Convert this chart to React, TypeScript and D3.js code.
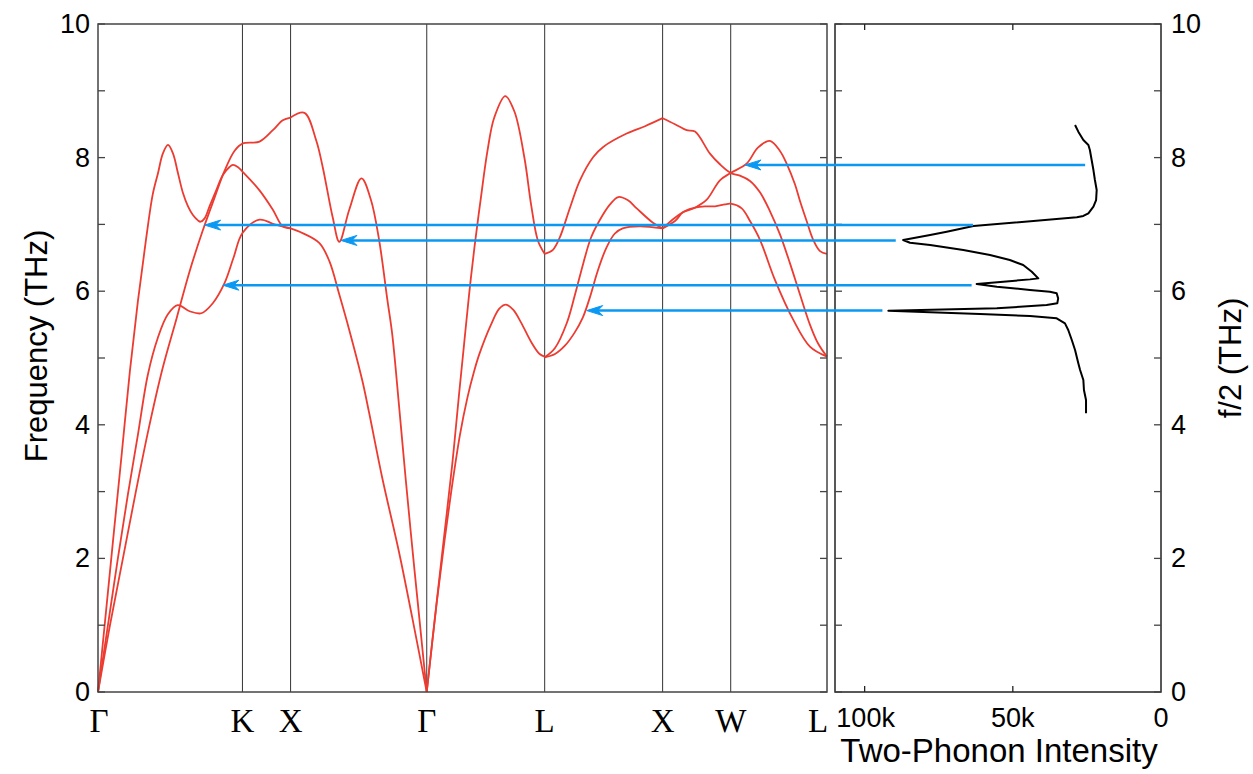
import React from "react";
import * as d3 from "d3";

const W = 1253;
const H = 774;

// high-symmetry path (k in units of 2π/a)
const kLabels = ["Γ", "K", "X", "Γ", "L", "X", "W", "L"];
const kTicks = [0, 1.0607, 1.4142, 2.4142, 3.2802, 4.1463, 4.6463, 5.3534];
const freqTicks = [0, 2, 4, 6, 8, 10];
const freqMinorTicks = [0, 1, 2, 3, 4, 5, 6, 7, 8, 9, 10];
const intensityTicks = [100000, 50000, 0];
const intensityTickLabels = ["100k", "50k", "0"];

// dispersion branches [k, f(THz)]
const branchGKX1 = [[0,0],[0.0585,1.2],[0.117,2.4],[0.176,3.6],[0.234,4.8],[0.293,5.85],[0.351,6.75],[0.402,7.45],[0.441,7.77],[0.476,8.06],[0.514,8.19],[0.551,8.06],[0.587,7.77],[0.624,7.47],[0.661,7.27],[0.697,7.14],[0.734,7.06],[0.753,7.04],[0.783,7.09],[0.819,7.27],[0.868,7.51],[0.917,7.74],[0.966,7.86],[0.990,7.89],[1.026,7.86],[1.061,7.79],[1.186,7.51],[1.284,7.22],[1.357,6.97],[1.414,6.94]];
const branchGKX2 = [[0,0],[0.073,1.0],[0.146,2.0],[0.219,2.95],[0.293,3.85],[0.366,4.75],[0.439,5.3],[0.512,5.65],[0.585,5.79],[0.673,5.70],[0.759,5.67],[0.843,5.82],[0.929,6.12],[0.995,6.50],[1.061,6.87],[1.186,7.07],[1.296,7.00],[1.414,6.94]];
const branchGKX3 = [[0,0],[0.088,1.0],[0.183,2.0],[0.278,3.0],[0.373,3.95],[0.475,4.85],[0.578,5.6],[0.673,6.3],[0.768,6.9],[0.856,7.40],[0.929,7.8],[1.002,8.1],[1.061,8.21],[1.186,8.24],[1.284,8.41],[1.357,8.56],[1.414,8.60]];
const branchXG1 = [[1.414,8.60],[1.516,8.67],[1.602,8.26],[1.650,7.86],[1.723,7.11],[1.772,6.74],[1.845,7.22],[1.935,7.69],[2.004,7.37],[2.064,6.77],[2.125,5.87],[2.161,5.35],[2.210,4.30],[2.259,3.20],[2.307,2.18],[2.356,1.18],[2.414,0]];
const branchXG2 = [[1.414,6.94],[1.502,6.87],[1.626,6.72],[1.699,6.45],[1.772,5.95],[1.845,5.42],[1.940,4.67],[1.991,4.18],[2.088,3.20],[2.210,2.10],[2.307,1.12],[2.414,0]];
const branchGL1 = [[2.414,0],[2.479,1.2],[2.540,2.3],[2.601,3.4],[2.651,4.45],[2.688,5.2],[2.725,5.95],[2.767,6.7],[2.812,7.4],[2.860,8.1],[2.910,8.6],[2.991,8.92],[3.058,8.69],[3.132,7.99],[3.181,7.29],[3.230,6.76],[3.280,6.56]];
const branchGL2 = [[2.414,0],[2.488,1.35],[2.547,2.3],[2.601,3.1],[2.658,3.85],[2.712,4.4],[2.762,4.8],[2.799,5.05],[2.886,5.5],[2.947,5.74],[2.996,5.80],[3.050,5.72],[3.107,5.53],[3.181,5.24],[3.243,5.06],[3.280,5.02]];
const branchLX1 = [[3.280,6.56],[3.341,6.62],[3.392,6.81],[3.466,7.25],[3.539,7.66],[3.637,8.01],[3.710,8.16],[3.882,8.36],[4.017,8.47],[4.146,8.59]];
const branchLX2 = [[3.280,5.01],[3.356,5.15],[3.442,5.52],[3.503,5.95],[3.564,6.42],[3.620,6.80],[3.686,7.07],[3.760,7.30],[3.821,7.41],[3.892,7.36],[3.956,7.24],[4.078,7.02],[4.146,6.94]];
const branchLX3 = [[3.280,5.01],[3.356,5.06],[3.427,5.18],[3.500,5.38],[3.559,5.60],[3.611,5.90],[3.669,6.30],[3.733,6.65],[3.794,6.86],[3.853,6.94],[3.977,6.97],[4.146,6.94]];
const branchXWL1 = [[4.146,8.59],[4.237,8.50],[4.323,8.41],[4.384,8.39],[4.494,8.06],[4.567,7.90],[4.646,7.77],[4.714,7.73],[4.788,7.65],[4.861,7.48],[4.934,7.20],[5.008,6.85],[5.081,6.42],[5.155,5.95],[5.228,5.50],[5.287,5.22],[5.353,5.02]];
const branchXWL2 = [[4.146,6.94],[4.237,7.05],[4.296,7.18],[4.384,7.25],[4.470,7.37],[4.567,7.66],[4.646,7.77],[4.763,7.91],[4.846,8.15],[4.934,8.25],[5.008,8.10],[5.057,7.91],[5.118,7.60],[5.155,7.35],[5.204,7.05],[5.252,6.77],[5.302,6.60],[5.353,6.56]];
const branchXWL3 = [[4.146,6.94],[4.237,7.10],[4.310,7.20],[4.384,7.25],[4.457,7.27],[4.531,7.27],[4.604,7.30],[4.646,7.31],[4.727,7.24],[4.788,7.05],[4.861,6.77],[4.971,6.17],[5.106,5.57],[5.228,5.17],[5.353,5.02]];

const branches = [branchGKX1, branchGKX2, branchGKX3, branchXG1, branchXG2, branchGL1, branchGL2, branchLX1, branchLX2, branchLX3, branchXWL1, branchXWL2, branchXWL3];

// two-phonon spectrum [f/2 (THz), intensity]
const spectrum = [[8.488,29000],[8.388,27900],[8.263,26200],[8.189,24500],[8.114,24000],[7.964,23400],[7.814,22800],[7.665,22300],[7.515,21700],[7.365,21900],[7.265,22800],[7.166,24500],[7.126,26200],[7.106,28400],[6.976,63300],[6.891,72300],[6.841,77900],[6.766,87000],[6.726,84700],[6.692,77900],[6.617,66700],[6.542,57700],[6.467,51000],[6.392,46500],[6.292,43600],[6.192,41400],[6.177,44200],[6.142,53200],[6.108,62200],[6.068,55400],[6.018,44200],[5.993,37500],[5.968,35200],[5.893,34700],[5.818,35000],[5.793,38600],[5.744,55400],[5.708,92000],[5.684,77900],[5.659,61100],[5.629,44200],[5.594,35200],[5.519,32400],[5.419,31300],[5.269,30100],[5.120,29000],[4.920,27900],[4.820,27300],[4.671,26200],[4.521,26000],[4.371,25300],[4.172,25300]];

// arrows: frequency, start intensity, end k
const arrowFreq = [7.89, 6.99, 6.76, 6.09, 5.71];
const arrowFromIntensity = [25600, 63400, 89500, 63900, 94000];
const arrowToK = [4.751, 0.783, 1.784, 0.917, 3.589];

const RED = "#ec3b31";
const BLUE = "#0b98f3";
const AXIS = "#444";
const SANS = "'Liberation Sans', Arial, sans-serif";
const SERIF = "'Liberation Serif', 'Times New Roman', serif";

export default function App() {
  const L = { x0: 98, x1: 827, y0: 24, y1: 692 };
  const R = { x0: 835, x1: 1161 };
  const xK = d3.scaleLinear().domain([0, 5.3534]).range([L.x0, L.x1]);
  const yF = d3.scaleLinear().domain([0, 10]).range([L.y1, L.y0]);
  const xI = d3.scaleLinear().domain([110000, 0]).range([R.x0, R.x1]);

  const lineK = d3
    .line<number[]>()
    .x((d) => xK(d[0]))
    .y((d) => yF(d[1]))
    .curve(d3.curveCatmullRom.alpha(0.5));
  const lineS = d3
    .line<number[]>()
    .x((d) => xI(d[1]))
    .y((d) => yF(d[0]))
    .curve(d3.curveLinear);

  const tickLen = 7;
  const kLabelShift = (i: number) => (i === kLabels.length - 1 ? -9 : i === 0 ? 1 : 0);

  return (
    <svg
      width={W}
      height={H}
      style={{ position: "absolute", left: 0, top: 0, background: "#fff" }}
    >
      <rect x={0} y={0} width={W} height={H} fill="#fff" />
      {/* symmetry lines */}
      {kTicks.slice(1, -1).map((k, i) => (
        <line key={"v" + i} x1={xK(k)} x2={xK(k)} y1={L.y0} y2={L.y1} stroke="#333" strokeWidth={1} />
      ))}
      {/* dispersion branches */}
      <g fill="none" stroke={RED} strokeWidth={1.8}>
        {branches.map((b, i) => (
          <path key={"b" + i} d={lineK(b) || ""} />
        ))}
      </g>
      {/* spectrum */}
      <path d={lineS(spectrum) || ""} fill="none" stroke="#000" strokeWidth={2} strokeLinejoin="round" />
      {/* frames */}
      <rect x={L.x0} y={L.y0} width={L.x1 - L.x0} height={L.y1 - L.y0} fill="none" stroke={AXIS} strokeWidth={1.5} />
      <rect x={R.x0} y={L.y0} width={R.x1 - R.x0} height={L.y1 - L.y0} fill="none" stroke="#222" strokeWidth={1.5} />
      {/* y ticks */}
      {freqMinorTicks.map((f) => (
        <g key={"t" + f} stroke={AXIS} strokeWidth={1.3}>
          <line x1={L.x0} x2={L.x0 + tickLen} y1={yF(f)} y2={yF(f)} />
          <line x1={L.x1} x2={L.x1 - tickLen} y1={yF(f)} y2={yF(f)} />
          <line x1={R.x0} x2={R.x0 + tickLen} y1={yF(f)} y2={yF(f)} />
          <line x1={R.x1} x2={R.x1 - tickLen} y1={yF(f)} y2={yF(f)} />
        </g>
      ))}
      {/* intensity ticks */}
      {intensityTicks.slice(0, 2).map((v) => (
        <g key={"it" + v} stroke="#222" strokeWidth={1.3}>
          <line x1={xI(v)} x2={xI(v)} y1={L.y1} y2={L.y1 - 6} />
          <line x1={xI(v)} x2={xI(v)} y1={L.y0} y2={L.y0 + 6} />
        </g>
      ))}
      {/* arrows */}
      {arrowFreq.map((f, i) => {
        const y = yF(f);
        const tip = xK(arrowToK[i]);
        const start = xI(arrowFromIntensity[i]);
        return (
          <g key={"a" + i}>
            <line x1={start} x2={tip + 10} y1={y} y2={y} stroke={BLUE} strokeWidth={2.6} />
            <path
              d={`M${tip},${y} L${tip + 16},${y - 5} L${tip + 11},${y} L${tip + 16},${y + 5} Z`}
              fill={BLUE}
              stroke={BLUE}
              strokeWidth={1}
              strokeLinejoin="miter"
            />
          </g>
        );
      })}
      {/* left y tick labels */}
      {freqTicks.map((f) => (
        <text key={"ly" + f} x={L.x0 - 8} y={yF(f)} textAnchor="end" dominantBaseline="central" fontFamily={SANS} fontSize={27} fill="#000">
          {f}
        </text>
      ))}
      {/* right y tick labels */}
      {freqTicks.map((f) => (
        <text key={"ry" + f} x={R.x1 + 10} y={yF(f)} textAnchor="start" dominantBaseline="central" fontFamily={SANS} fontSize={27} fill="#000">
          {f}
        </text>
      ))}
      {/* k labels */}
      {kTicks.map((k, i) => (
        <text key={"k" + i} x={xK(k) + kLabelShift(i)} y={732} textAnchor="middle" fontFamily={SERIF} fontSize={33} fill="#000">
          {kLabels[i]}
        </text>
      ))}
      {/* intensity labels */}
      {intensityTicks.map((v, i) => (
        <text key={"il" + i} x={xI(v) + (i === 0 ? 1 : 0)} y={727} textAnchor="middle" fontFamily={SANS} fontSize={27} fill="#000">
          {intensityTickLabels[i]}
        </text>
      ))}
      {/* axis titles */}
      <text transform={`translate(36,346) rotate(-90)`} textAnchor="middle" dominantBaseline="central" fontFamily={SANS} fontSize={31} fill="#000">
        Frequency (THz)
      </text>
      <text transform={`translate(1230,358) rotate(-90)`} textAnchor="middle" dominantBaseline="central" fontFamily={SANS} fontSize={31} fill="#000">
        f/2 (THz)
      </text>
      <text x={999} y={762} textAnchor="middle" fontFamily={SANS} fontSize={33} fill="#000">
        Two-Phonon Intensity
      </text>
    </svg>
  );
}
